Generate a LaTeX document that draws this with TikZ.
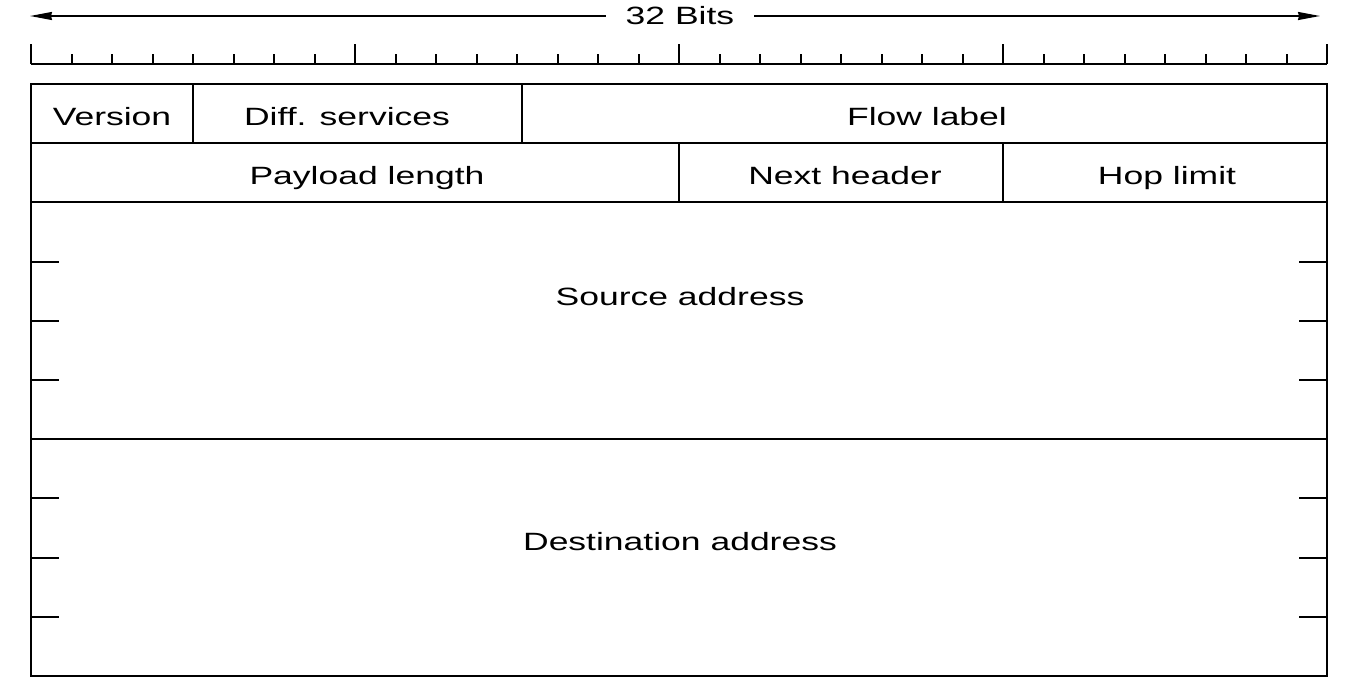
\documentclass[tikz,border=0pt]{standalone}
\usepackage{fontspec}
\setmainfont{Liberation Sans}[FakeStretch=1.42]
\usetikzlibrary{arrows.meta,positioning,calc}
\tikzset{
frame/.style={line width=2pt},
tickmark/.style={line width=2pt},
arr/.style={-{Stealth[length=22pt,width=8pt,inset=1pt]},line width=1.6pt},
field/.style={anchor=base,inner sep=0pt},
}
\tikzstyle{every node}=[font=\fontsize{25}{30}\selectfont]

\begin{document}
\begin{tikzpicture}[x=1pt,y=-1pt]
        \useasboundingbox (0,0) rectangle (1348,694);

        \coordinate (left end) at (30,16);
        \coordinate (right end) at (1320,16);

        % Width arrow
        \node[inner xsep=20pt,inner ysep=0pt] (bits) at (680,16) {32 Bits};
        \draw[arr] (bits.west) -- (bits.west -| left end);
        \draw[arr] (bits.east) -- (bits.east -| right end);

        % Bit ruler
        \draw[tickmark] (31,64) -- (1327,64);
        \foreach \b in {0,...,32}
            \draw[tickmark] (31+40.5*\b,54) -- (31+40.5*\b,64);
        \foreach \b in {0,8,...,32}
            \draw[tickmark] (31+40.5*\b,44) -- (31+40.5*\b,64);

        % Header frame and rows
        \draw[frame] (31,84) rectangle (1327,676);
        \foreach \y in {143.2,202.4,439.2}
            \draw[frame] (31,\y) -- (1327,\y);
        % Field borders
        \draw[frame] (193,84) -- (193,143.2);
        \draw[frame] (522,84) -- (522,143.2);
        \draw[frame] (679,143.2) -- (679,202.4);
        \draw[frame] (1003,143.2) -- (1003,202.4);
        % Word marks of the addresses
        \foreach \y in {261.6,320.8,380,498.4,557.6,616.8} {
            \draw[tickmark] (31,\y) -- (59,\y);
            \draw[tickmark] (1299,\y) -- (1327,\y);
        }

        % Fields
        \node[field] (version) at (112,125) {Version};
        \node[field] (diffserv) at (347,125) {Diff. services};
        \node[field] (flow) at (927,125) {Flow label};
        \node[field] (payload) at (367,184.5) {Payload length};
        \node[field] (next) at (845,184.5) {Next header};
        \node[field] (hop) at (1167,184.5) {Hop limit};
        \node[field] (source) at (680,305) {Source address};
        \node[field] (dest) at (680,550) {Destination address};

    \end{tikzpicture}
\end{document}
